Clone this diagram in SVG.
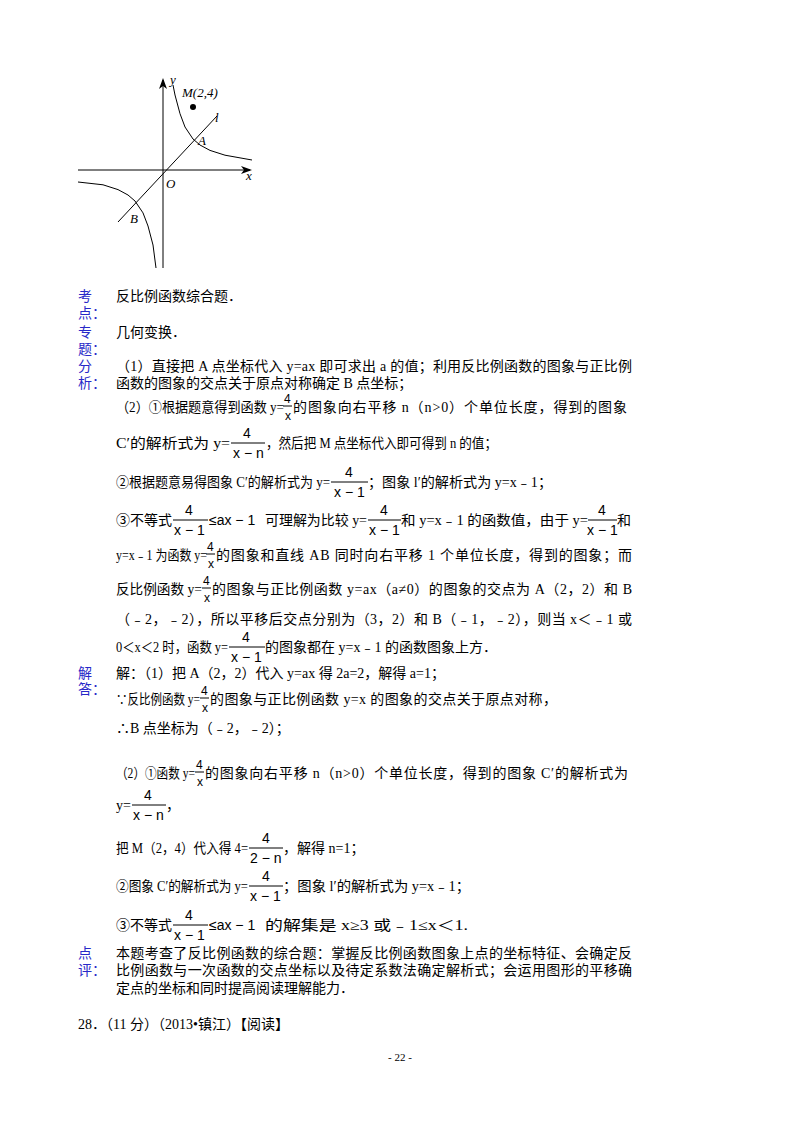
<svg xmlns="http://www.w3.org/2000/svg" width="800" height="1132" viewBox="0 0 800 1132">
<style>
text{font-family:"Liberation Serif","Noto Sans CJK SC",serif;font-size:14px;fill:#000}
.lb{fill:#2828c8}
.f{font-family:"Liberation Sans","Noto Sans CJK SC",sans-serif;font-size:14px}
.fs{font-family:"Liberation Sans",sans-serif;font-size:12px}
.g{font-family:"Liberation Serif",serif;font-style:italic;font-size:13px}
.bar{stroke:#000;stroke-width:1}
.ax{stroke:#000;stroke-width:1;fill:none}
</style>
<rect width="800" height="1132" fill="#fff"/>
<g id="graph">
<line class="ax" x1="78" y1="170" x2="250" y2="170"/>
<path d="M252 170 L241 166 L244 170 L241 174Z"/>
<line class="ax" x1="163" y1="268" x2="163" y2="80"/>
<path d="M163 78 L159 89 L163 86 L167 89Z"/>
<line class="ax" x1="118" y1="222" x2="217" y2="116"/>
<polyline class="ax" points="173,85 175,95 180,113.7 185,127 193,139 200,145 210,150.4 225,155.2 252,160"/>
<polyline class="ax" points="78,182 103,184.8 118,189.6 128,195 135,201 143,212.9 148,226 153,245 156,268"/>
<circle cx="193" cy="107" r="3"/>
<text class="g" x="182" y="97">M(2,4)</text>
<text class="g" x="170" y="84">y</text>
<text class="g" x="246" y="180">x</text>
<text class="g" x="215" y="122">l</text>
<text class="g" x="166" y="188">O</text>
<text class="g" x="198" y="145">A</text>
<text class="g" x="130" y="223">B</text>
</g>
<g id="labels">
<text class="lb" x="78" y="301">考</text><text class="lb" x="78" y="318">点：</text>
<text class="lb" x="78" y="337">专</text><text class="lb" x="78" y="354">题：</text>
<text class="lb" x="78" y="371">分</text><text class="lb" x="78" y="388">析：</text>
<text class="lb" x="78" y="678">解</text><text class="lb" x="78" y="694">答：</text>
<text class="lb" x="78" y="958">点</text><text class="lb" x="78" y="975">评：</text>
</g>
<g id="analysis">
<text x="116" y="301">反比例函数综合题．</text>
<text x="116" y="337">几何变换．</text>
<text x="116" y="371" textLength="516" lengthAdjust="spacing">（1）直接把 A 点坐标代入 y=ax 即可求出 a 的值；利用反比例函数的图象与正比例</text>
<text x="116" y="388">函数的图象的交点关于原点对称确定 B 点坐标；</text>

<text x="116" y="412" textLength="168" lengthAdjust="spacingAndGlyphs">（2）①根据题意得到函数 y=</text>
<text class="fs" x="284" y="403">4</text><line class="bar" x1="283" y1="406" x2="292" y2="406"/><text class="fs" x="285" y="420">x</text>
<text x="293" y="412" textLength="334" lengthAdjust="spacing">的图象向右平移 n（n&gt;0）个单位长度，得到的图象</text>

<text x="116" y="448" textLength="114" lengthAdjust="spacingAndGlyphs">C′的解析式为 y=</text>
<text class="f" x="243" y="438">4</text><line class="bar" x1="231" y1="443" x2="265" y2="443"/><text class="f" x="233" y="458">x − n</text>
<text x="266" y="448" textLength="231" lengthAdjust="spacingAndGlyphs">，然后把 M 点坐标代入即可得到 n 的值；</text>

<text x="116" y="487" textLength="214" lengthAdjust="spacingAndGlyphs">②根据题意易得图象 C′的解析式为 y=</text>
<text class="f" x="345" y="477">4</text><line class="bar" x1="331" y1="482" x2="368" y2="482"/><text class="f" x="334" y="497">x − 1</text>
<text x="368" y="487" textLength="184" lengthAdjust="spacingAndGlyphs">；图象 l′的解析式为 y=x﹣1；</text>

<text x="116" y="525">③不等式</text>
<text class="f" x="185" y="515">4</text><line class="bar" x1="173" y1="520" x2="208" y2="520"/><text class="f" x="174" y="535">x − 1</text>
<text class="f" x="209" y="525">≤ax − 1</text>
<text x="265" y="525" textLength="102" lengthAdjust="spacingAndGlyphs">可理解为比较 y=</text>
<text class="f" x="380" y="515">4</text><line class="bar" x1="368" y1="520" x2="401" y2="520"/><text class="f" x="369" y="535">x − 1</text>
<text x="401" y="525" textLength="187" lengthAdjust="spacingAndGlyphs">和 y=x﹣1 的函数值，由于 y=</text>
<text class="f" x="598" y="515">4</text><line class="bar" x1="588" y1="520" x2="617" y2="520"/><text class="f" x="587" y="535">x − 1</text>
<text x="617" y="525">和</text>

<text x="116" y="560" textLength="91" lengthAdjust="spacingAndGlyphs">y=x﹣1 为函数 y=</text>
<text class="fs" x="207" y="551">4</text><line class="bar" x1="206" y1="554" x2="215" y2="554"/><text class="fs" x="208" y="568">x</text>
<text x="216" y="560" textLength="416" lengthAdjust="spacing">的图象和直线 AB 同时向右平移 1 个单位长度，得到的图象；而</text>

<text x="116" y="594" textLength="86" lengthAdjust="spacingAndGlyphs">反比例函数 y=</text>
<text class="fs" x="203" y="585">4</text><line class="bar" x1="202" y1="588" x2="211" y2="588"/><text class="fs" x="204" y="602">x</text>
<text x="212" y="594" textLength="420" lengthAdjust="spacing">的图象与正比例函数 y=ax（a≠0）的图象的交点为 A（2，2）和 B</text>

<text x="116" y="624" textLength="516" lengthAdjust="spacing">（﹣2，﹣2），所以平移后交点分别为（3，2）和 B（﹣1，﹣2），则当 x＜﹣1 或</text>

<text x="116" y="652" textLength="112" lengthAdjust="spacingAndGlyphs">0＜x＜2 时，函数 y=</text>
<text class="f" x="242" y="642">4</text><line class="bar" x1="229" y1="647" x2="265" y2="647"/><text class="f" x="231" y="662">x − 1</text>
<text x="265" y="652" textLength="232" lengthAdjust="spacingAndGlyphs">的图象都在 y=x﹣1 的函数图象上方．</text>
</g>
<g id="answer">
<text x="116" y="678">解：（1）把 A（2，2）代入 y=ax 得 2a=2，解得 a=1；</text>
<text x="116" y="704" textLength="84" lengthAdjust="spacingAndGlyphs">∵反比例函数 y=</text>
<text class="fs" x="201" y="695">4</text><line class="bar" x1="200" y1="698" x2="209" y2="698"/><text class="fs" x="202" y="712">x</text>
<text x="210" y="704" textLength="347" lengthAdjust="spacing">的图象与正比例函数 y=x 的图象的交点关于原点对称，</text>
<text x="116" y="733">∴B 点坐标为（﹣2，﹣2）；</text>

<text x="116" y="778" textLength="79" lengthAdjust="spacingAndGlyphs">（2）①函数 y=</text>
<text class="fs" x="196" y="769">4</text><line class="bar" x1="195" y1="772" x2="204" y2="772"/><text class="fs" x="197" y="786">x</text>
<text x="205" y="778" textLength="423" lengthAdjust="spacing">的图象向右平移 n（n&gt;0）个单位长度，得到的图象 C′的解析式为</text>

<text x="116" y="810">y=</text>
<text class="f" x="144" y="800">4</text><line class="bar" x1="132" y1="805" x2="166" y2="805"/><text class="f" x="133" y="820">x − n</text>
<text x="166" y="810">，</text>

<text x="116" y="853" textLength="132" lengthAdjust="spacingAndGlyphs">把 M（2，4）代入得 4=</text>
<text class="f" x="262" y="843">4</text><line class="bar" x1="249" y1="848" x2="283" y2="848"/><text class="f" x="250" y="863">2 − n</text>
<text x="283" y="853">，解得 n=1；</text>

<text x="116" y="891" textLength="132" lengthAdjust="spacingAndGlyphs">②图象 C′的解析式为 y=</text>
<text class="f" x="262" y="881">4</text><line class="bar" x1="249" y1="886" x2="283" y2="886"/><text class="f" x="250" y="901">x − 1</text>
<text x="283" y="891" textLength="187" lengthAdjust="spacingAndGlyphs">；图象 l′的解析式为 y=x﹣1；</text>

<text x="116" y="930">③不等式</text>
<text class="f" x="185" y="920">4</text><line class="bar" x1="173" y1="925" x2="208" y2="925"/><text class="f" x="174" y="940">x − 1</text>
<text class="f" x="209" y="930">≤ax − 1</text>
<text x="265" y="930" textLength="203" lengthAdjust="spacingAndGlyphs">的解集是 x≥3 或﹣1≤x＜1.</text>
</g>
<g id="comment">
<text x="116" y="958" textLength="516" lengthAdjust="spacing">本题考查了反比例函数的综合题：掌握反比例函数图象上点的坐标特征、会确定反</text>
<text x="116" y="975" textLength="516" lengthAdjust="spacing">比例函数与一次函数的交点坐标以及待定系数法确定解析式；会运用图形的平移确</text>
<text x="116" y="993">定点的坐标和同时提高阅读理解能力．</text>
</g>
<text x="78" y="1029">28．（11 分）（2013•镇江）【阅读】</text>
<text x="400" y="1061" text-anchor="middle" style="font-size:11px">- 22 -</text>
</svg>
